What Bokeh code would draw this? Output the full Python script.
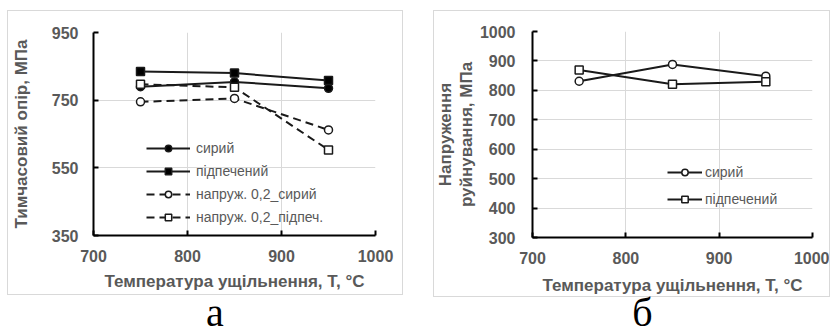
from bokeh.plotting import figure
from bokeh.models import FixedTicker, Legend, LegendItem, Div, Title
from bokeh.layouts import row, column
from bokeh.embed import file_html
from bokeh.resources import INLINE

# ---- data ----
temps = [750, 850, 950]
xticks = [700, 800, 900, 1000]
x_title = "Температура ущільнення, Т, °C"

a_raw = [790, 804, 785]
a_sint = [835, 830, 808]
a_ys_raw = [745, 755, 662]
a_ys_sint = [797, 788, 603]
a_labels = ["сирий", "підпечений", "напруж. 0,2_сирий", "напруж. 0,2_підпеч."]
a_yticks = [350, 550, 750, 950]
a_ytitle = "Тимчасовий опір, МПа"

b_raw = [831, 888, 848]
b_sint = [869, 821, 829]
b_labels = ["сирий", "підпечений"]
b_yticks = [300, 400, 500, 600, 700, 800, 900, 1000]
b_ytitle_lines = ["Напруження", "руйнування, МПа"]

panel_labels = ["а", "б"]

GREY = "#595959"
LINE = "#1a1a1a"
FONT = "Liberation Sans"


def style(p, yticks, ytick_standoff, xlab_standoff):
    p.xaxis.ticker = FixedTicker(ticks=xticks)
    p.yaxis.ticker = FixedTicker(ticks=yticks)
    for ax in (p.xaxis[0], p.yaxis[0]):
        ax.axis_line_color = "black"
        ax.axis_line_width = 2
        ax.major_tick_line_color = "black"
        ax.major_tick_line_width = 2
        ax.major_tick_in = 5
        ax.major_tick_out = 0
        ax.minor_tick_line_color = None
        ax.major_label_text_font = FONT
        ax.major_label_text_font_style = "bold"
        ax.major_label_text_font_size = "16px"
        ax.major_label_text_color = GREY
        ax.axis_label_text_font = FONT
        ax.axis_label_text_font_style = "bold"
        ax.axis_label_text_font_size = "17px"
        ax.axis_label_text_color = GREY
    p.xaxis.major_label_standoff = 14
    p.yaxis.major_label_standoff = ytick_standoff
    p.xaxis.axis_label = x_title
    p.xaxis.axis_label_standoff = xlab_standoff
    p.xgrid.grid_line_color = "#d9d9d9"
    p.ygrid.grid_line_color = "#d9d9d9"
    p.outline_line_color = None
    p.background_fill_color = "white"
    p.border_fill_color = "white"


# ---- panel a ----
p1 = figure(width=396, height=285, x_range=(700, 1000), y_range=(350, 950),
            output_backend="svg", toolbar_location=None,
            min_border_left=82, min_border_right=29, min_border_top=21, min_border_bottom=61,
            styles={"border": "1px solid #d9d9d9"})
style(p1, a_yticks, 15, 7)
p1.yaxis.axis_label = a_ytitle
p1.yaxis.axis_label_standoff = 18

items = []
specs = [
    (a_raw, "circle", "black", "solid"),
    (a_sint, "square", "black", "solid"),
    (a_ys_raw, "circle", "white", "8 5"),
    (a_ys_sint, "square", "white", "8 5"),
]
for (vals, mk, fill, dash), lab in zip(specs, a_labels):
    lr = p1.line(temps, vals, line_color=LINE, line_width=2, line_dash=dash)
    sr = p1.scatter(temps, vals, marker=mk, size=8, fill_color=fill,
                    line_color=LINE, line_width=1.5)
    items.append(LegendItem(label=lab, renderers=[lr, sr]))

leg1 = Legend(items=items, location=(53, 10), border_line_color=None,
              background_fill_alpha=0, padding=0, margin=0, spacing=7,
              glyph_width=44, glyph_height=16, label_height=16, label_standoff=6,
              label_text_font=FONT, label_text_font_size="14px", label_text_color=GREY)
p1.add_layout(leg1)

# ---- panel b ----
p2 = figure(width=397, height=287, x_range=(700, 1000), y_range=(300, 1000),
            output_backend="svg", toolbar_location=None,
            min_border_left=96, min_border_right=19, min_border_top=20, min_border_bottom=61,
            styles={"border": "1px solid #d9d9d9"})
style(p2, b_yticks, 17, 9)

items2 = []
for vals, mk, lab in zip([b_raw, b_sint], ["circle", "square"], b_labels):
    lr = p2.line(temps, vals, line_color=LINE, line_width=2)
    sr = p2.scatter(temps, vals, marker=mk, size=8, fill_color="white",
                    line_color=LINE, line_width=1.5)
    items2.append(LegendItem(label=lab, renderers=[lr, sr]))

leg2 = Legend(items=items2, location=(135, 30), border_line_color=None,
              background_fill_alpha=0, padding=0, margin=0, spacing=11,
              glyph_width=35, glyph_height=16, label_height=16, label_standoff=3,
              label_text_font=FONT, label_text_font_size="14px", label_text_color=GREY)
p2.add_layout(leg2)

# two-line y title: inner line first (closest to the axis), then outer line
for txt in reversed(b_ytitle_lines):
    p2.add_layout(Title(text=txt, align="center", vertical_align="middle",
                        standoff=0, offset=11, text_font=FONT, text_font_style="bold",
                        text_font_size="17px", text_color=GREY), "left")


def cap(txt, w, h, dx, top):
    return Div(text=(f'<div style="position:relative;left:{dx}px;width:{w}px;'
                     f'margin-top:{top}px;font-family:\'Liberation Serif\';font-size:40px;'
                     f'line-height:30px;text-align:center;color:#000;">{txt}</div>'),
               width=w, height=h, margin=0, styles={"overflow": "visible"})


layout = row(column(p1, cap(panel_labels[0], 396, 34, 10, 3), margin=0),
             column(p2, cap(panel_labels[1], 397, 32, 11, 1), margin=0),
             spacing=30, margin=(10, 0, 0, 7))

open("out.html", "w").write(file_html(layout, INLINE))
